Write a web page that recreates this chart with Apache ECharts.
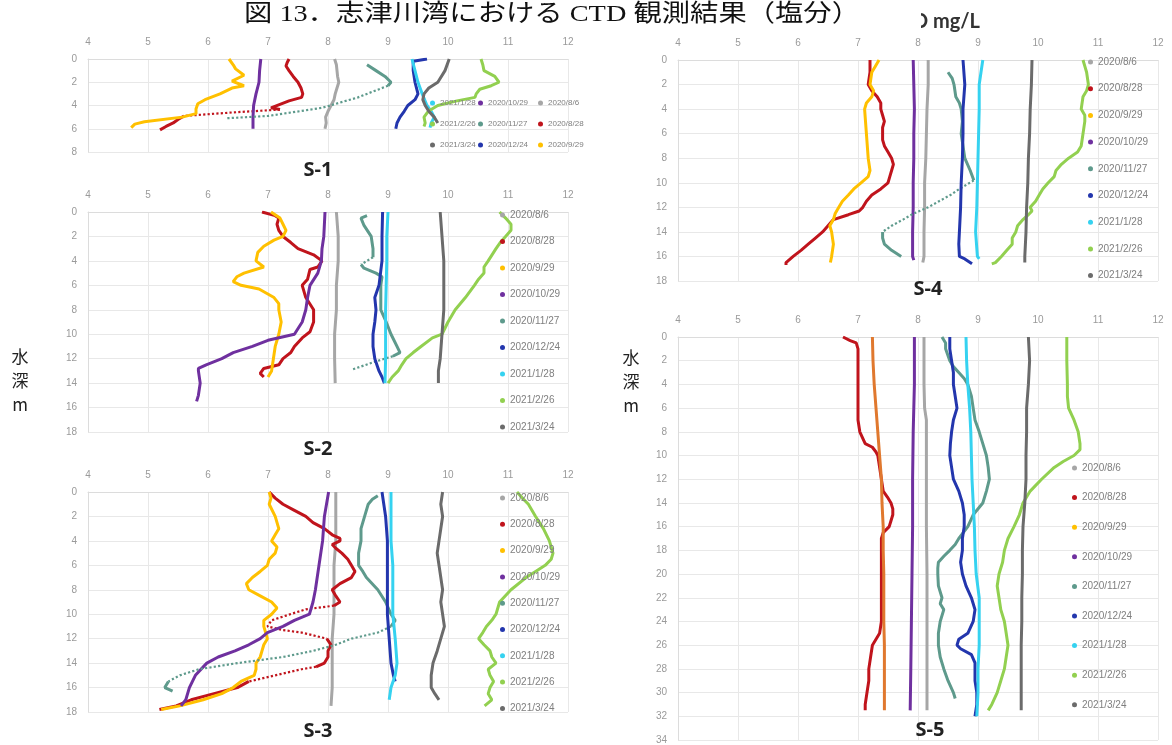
<!DOCTYPE html>
<html><head><meta charset="utf-8">
<script src="https://cdn.jsdelivr.net/npm/echarts@6/dist/echarts.min.js"></script>
<style>html,body{margin:0;padding:0;background:#fff}#chart{width:1172px;height:745px}</style>
</head><body><div id="chart"></div><script>
// ---------- labels / ticks ----------
const TITLE = '図 13．志津川湾における CTD 観測結果（塩分）';
const UNIT_TEXT = 'DO mg/L';
const DEPTH_NAME = '水\n深\nm';
const DATES = ['2020/8/6','2020/8/28','2020/9/29','2020/10/29','2020/11/27','2020/12/24','2021/1/28','2021/2/26','2021/3/24'];
const X_TICKS = [4,5,6,7,8,9,10,11,12];
const S1_DEPTH_TICKS = [0,2,4,6,8];
const S2_DEPTH_TICKS = [0,2,4,6,8,10,12,14,16,18];
const S3_DEPTH_TICKS = [0,2,4,6,8,10,12,14,16,18];
const S4_DEPTH_TICKS = [0,2,4,6,8,10,12,14,16,18];
const S5_DEPTH_TICKS = [0,2,4,6,8,10,12,14,16,18,20,22,24,26,28,30,32,34];

// ---------- data: [depth m, DO mg/L] ----------
// S-1
const S1_0806 = [[0,8.11],[0.5,8.14],[1,8.15],[1.5,8.16],[2,8.18],[2.5,8.15],[3,8.12],[3.5,8.1],[4,8.05],[4.5,8.0],[5,7.96],[5.5,7.97],[6,7.95]];
const S1_0828 = [[0,7.35],[0.3,7.32],[0.6,7.3],[1,7.35],[1.5,7.42],[2,7.5],[2.5,7.55],[3,7.58],[3.3,7.56],[3.6,7.35],[3.9,7.2],[4.2,7.05],[4.35,7.2]];
const S1_0828_gap = [[4.35,7.2],[4.6,6.4],[4.9,5.6]];
const S1_0828_b = [[4.9,5.6],[5.2,5.5],[5.5,5.42],[5.8,5.3],[6.1,5.2]];
const S1_0929 = [[0,6.35],[0.5,6.42],[0.85,6.46],[1.4,6.6],[1.9,6.4],[2.3,6.6],[2.5,6.4],[3,6.2],[3.5,5.95],[3.85,5.83],[4.3,5.8],[4.7,5.8],[5,5.57],[5.4,4.94],[5.6,4.78],[5.9,4.72]];
const S1_1029 = [[0,6.88],[1,6.86],[2,6.85],[3,6.8],[4,6.76],[5,6.75],[6,6.75]];
const S1_1127 = [[0.5,8.65],[1,8.8],[1.5,8.95],[2,9.05],[2.3,9.0]];
const S1_1127_gap = [[2.3,9.0],[3.3,8.5],[4.2,7.9],[4.9,7.0],[5.1,6.3]];
const S1_1224 = [[0,9.65],[0.15,9.65],[0.2,9.42],[0.5,9.42],[1,9.42],[2,9.45],[3,9.5],[3.5,9.45],[4,9.33],[4.5,9.27],[5,9.2],[5.5,9.15],[6,9.13]];
const S1_0128 = [[0,9.4],[1,9.45],[2,9.5],[3,9.57],[4,9.65],[4.5,9.72],[5,9.77],[5.5,9.72],[5.9,9.7]];
const S1_0226 = [[0,10.55],[0.5,10.58],[1,10.6],[1.5,10.78],[2,10.85],[2.3,10.72],[2.6,10.53],[3,10.47],[3.3,10.45],[3.6,10.15],[4,9.83],[4.5,9.67],[5,9.6],[5.5,9.62],[5.8,9.6]];
const S1_0324 = [[0,10.02],[1,9.95],[2,9.83],[2.5,9.68],[3,9.6],[3.5,9.58],[4,9.62],[4.5,9.68],[5,9.77],[5.5,9.83]];
// S-2
const S2_0806 = [[0,8.14],[2,8.17],[4,8.17],[6,8.14],[8,8.14],[10,8.11],[12,8.11],[14,8.12]];
const S2_0828 = [[0,6.9],[0.3,7.12],[0.5,7.18],[1,7.15],[1.5,7.18],[2,7.25],[2.5,7.38],[3,7.5],[3.5,7.76],[4,7.9],[4.5,7.83],[4.7,7.7],[5.5,7.66],[6,7.57],[7,7.63],[8,7.76],[9,7.76],[9.8,7.7],[10.3,7.57],[11,7.44],[11.5,7.38],[12,7.25],[12.5,7.18],[12.8,6.93],[13.2,6.87],[13.5,6.93]];
const S2_0929 = [[0,7.05],[0.5,7.2],[1,7.25],[1.5,7.3],[2,7.25],[2.3,7.1],[2.8,6.93],[3.3,6.83],[4,6.8],[4.5,6.93],[5,6.6],[5.3,6.48],[5.7,6.42],[6,6.55],[6.3,6.85],[7,7.1],[7.5,7.18],[8,7.18],[9,7.22],[10,7.18],[11,7.12],[12,7.09],[13,7.06],[13.5,7.0]];
const S2_1029 = [[0,7.95],[2,7.93],[3,7.9],[4,7.89],[5,7.83],[6,7.7],[7,7.66],[8,7.63],[9,7.57],[10,7.44],[10.5,7.0],[11,6.74],[11.5,6.42],[12,6.23],[12.5,5.97],[12.8,5.84],[13,5.84],[14,5.87],[15,5.84],[15.5,5.81]];
const S2_1127 = [[0.3,8.65],[0.5,8.55],[1.1,8.6],[2,8.72],[3,8.75],[3.7,8.75]];
const S2_1127_gap = [[3.7,8.75],[4.3,8.55]];
const S2_1127_b = [[4.3,8.55],[4.6,8.6],[5,8.8],[5.3,8.9],[6,8.88],[8,8.88],[9,8.97],[10,9.05],[11,9.15],[11.5,9.2],[11.8,9.08]];
const S2_1127_gap2 = [[11.8,9.08],[12.3,8.75],[12.9,8.4]];
const S2_1224 = [[0,8.91],[2,8.9],[4,8.9],[6,8.85],[7,8.78],[8,8.8],[9,8.78],[10,8.75],[11,8.75],[12,8.78],[13,8.85],[13.5,8.9],[14,8.94]];
const S2_0128 = [[0,9.0],[2,8.98],[4,8.98],[6,8.97],[8,8.96],[10,8.96],[12,8.96],[14,8.95]];
const S2_0226 = [[0,10.86],[0.5,10.96],[1,11.05],[1.5,11.05],[2,10.96],[2.5,10.87],[3,10.8],[4,10.67],[4.5,10.6],[5,10.6],[5.5,10.51],[6,10.44],[7,10.29],[8,10.12],[9,10.0],[10,9.9],[10.3,9.74],[11,9.55],[11.5,9.42],[12,9.3],[12.5,9.23],[13,9.17],[13.5,9.07],[14,9.0]];
const S2_0324 = [[0,9.87],[2,9.9],[4,9.93],[6,9.93],[8,9.93],[10,9.9],[12,9.87],[13,9.84],[14,9.84]];
// S-3
const S3_0806 = [[0,8.13],[2,8.13],[4,8.13],[6,8.1],[8,8.1],[10,8.1],[12,8.07],[14,8.07],[16,8.07],[17.5,8.05]];
const S3_0828 = [[0,7.02],[0.5,7.12],[1,7.25],[1.5,7.44],[2,7.63],[2.5,7.75],[3,7.94],[3.5,8.07],[3.8,8.2],[4,8.2],[4.3,8.07],[4.6,8.13],[5,8.23],[5.5,8.33],[6,8.39],[6.5,8.45],[7,8.39],[7.5,8.2],[8,8.07],[8.5,8.13],[9,8.2],[9.3,8.1]];
const S3_0828_gap = [[9.3,8.1],[9.6,7.63],[10,7.37],[10.5,7.06],[11,6.99],[11.3,7.25],[11.5,7.56],[12,7.98]];
const S3_0828_b = [[12,7.98],[12.5,8.05],[13,8.0],[13.5,8.0],[14,7.94],[14.3,7.8]];
const S3_0828_gap2 = [[14.3,7.8],[14.5,7.56],[15,7.12],[15.5,6.68]];
const S3_0828_c = [[15.5,6.68],[16,6.49],[16.5,6.1],[17,5.72],[17.5,5.47],[17.8,5.19]];
const S3_0929 = [[0,7.02],[0.5,7.05],[1,7.02],[2,7.12],[3,7.18],[3.5,7.12],[4,7.06],[4.5,7.15],[5,7.12],[5.5,7.02],[6,6.99],[6.5,6.87],[7,6.74],[7.5,6.64],[8,6.68],[8.5,6.87],[9,7.06],[9.5,7.15],[10,7.06],[10.5,6.93],[11,6.93],[11.5,6.96],[12,6.99],[12.5,6.93],[13,6.9],[13.5,6.87],[14,6.8],[14.5,6.8],[15,6.77],[15.5,6.55],[16,6.42],[16.5,6.23],[17,5.92],[17.5,5.53],[17.8,5.22]];
const S3_1029 = [[0,8.01],[2,7.94],[4,7.91],[6,7.85],[8,7.79],[9,7.75],[10,7.69],[10.5,7.44],[11,7.25],[11.5,6.99],[12,6.87],[12.5,6.68],[13,6.45],[13.5,6.17],[14,5.98],[15,5.79],[16,5.69],[17,5.63],[17.5,5.55]];
const S3_1127 = [[0.3,8.83],[0.6,8.74],[1,8.67],[2,8.61],[3,8.55],[4,8.55],[5,8.51],[6,8.51],[6.5,8.58],[7,8.64],[8,8.83],[9,8.96],[10,9.05],[10.5,9.12],[11,9.05]];
const S3_1127_gap = [[11,9.05],[11.5,8.83],[12,8.39],[12.5,8.13],[13,7.75],[13.5,7.25],[14,6.49],[14.5,5.85],[15,5.53],[15.5,5.34]];
const S3_1127_b = [[15.5,5.34],[16,5.28],[16.3,5.41]];
const S3_1224 = [[0,8.9],[2,8.96],[4,8.99],[6,8.99],[8,8.99],[10,8.99],[12,9.02],[14,9.05],[15,9.09],[15.5,9.12]];
const S3_0128 = [[0,9.05],[2,9.05],[4,9.05],[6,9.08],[8,9.08],[10,9.08],[12,9.12],[14,9.15],[15,9.12],[16,9.05],[17,9.02]];
const S3_0226 = [[0,11.15],[0.5,11.24],[1,11.34],[2,11.46],[3,11.59],[4,11.69],[4.5,11.72],[5,11.75],[5.5,11.72],[6,11.62],[6.5,11.46],[7,11.3],[8,11.05],[9,10.86],[10,10.8],[10.5,10.73],[11,10.64],[11.5,10.58],[12,10.51],[12.5,10.6],[13,10.7],[13.5,10.73],[14,10.8],[14.5,10.67],[15,10.7],[15.5,10.76],[16,10.7],[16.5,10.67],[17,10.73],[17.5,10.61]];
const S3_0324 = [[0,9.91],[1,9.88],[2,9.91],[3,9.88],[4,9.85],[5,9.82],[6,9.85],[7,9.88],[8,9.91],[9,9.88],[10,9.91],[11,9.94],[12,9.88],[13,9.82],[14,9.75],[15,9.72],[16,9.72],[16.5,9.78],[17,9.85]];
// S-4
const S4_0806 = [[0,8.17],[2,8.17],[4,8.15],[6,8.14],[8,8.13],[10,8.11],[12,8.11],[14,8.1],[16,8.1],[16.5,8.08]];
const S4_0828 = [[0,7.2],[1,7.2],[2,7.17],[2.5,7.23],[3,7.32],[3.5,7.38],[4,7.38],[4.5,7.41],[5,7.44],[5.5,7.41],[6,7.41],[6.5,7.41],[7,7.44],[7.5,7.5],[8,7.56],[8.5,7.59],[9,7.56],[9.5,7.53],[10,7.5],[10.5,7.38],[11,7.23],[11.5,7.14],[12,7.08],[12.3,7.02],[12.6,6.84],[13,6.59],[13.5,6.5],[14,6.41],[14.5,6.29],[15,6.17],[15.5,6.05],[16,5.92],[16.5,5.8],[16.7,5.8]];
const S4_0929 = [[0,7.35],[0.5,7.29],[1,7.23],[2,7.2],[2.5,7.26],[3,7.23],[3.5,7.14],[4,7.11],[6,7.14],[8,7.17],[9,7.2],[9.5,7.17],[10,7.05],[10.5,6.93],[11,6.84],[11.5,6.74],[12,6.68],[12.5,6.62],[13,6.59],[13.5,6.53],[14,6.56],[15,6.59],[16,6.56],[16.5,6.54]];
const S4_1029 = [[0,7.92],[2,7.93],[4,7.94],[6,7.93],[8,7.93],[10,7.92],[12,7.92],[14,7.91],[16,7.91],[16.3,7.93]];
const S4_1127 = [[1,8.5],[1.5,8.57],[2,8.6],[3,8.63],[3.5,8.69],[4,8.72],[5,8.74],[6,8.72],[7,8.75],[8,8.78],[9,8.87],[9.8,8.93]];
const S4_1127_gap = [[9.8,8.93],[10.5,8.69],[11,8.54],[11.5,8.35],[12,8.17],[12.5,7.93],[13,7.75],[13.5,7.56],[14,7.41]];
const S4_1127_b = [[14,7.41],[14.5,7.41],[15,7.44],[15.5,7.56],[16,7.72]];
const S4_1224 = [[0,8.75],[2,8.78],[4,8.75],[6,8.75],[8,8.74],[10,8.72],[12,8.71],[14,8.69],[15,8.68],[16,8.69],[16.2,8.78],[16.6,8.9]];
const S4_0128 = [[0,9.08],[1,9.05],[2,9.02],[4,9.02],[6,9.01],[8,9.0],[10,8.99],[12,8.98],[14,8.96],[16,8.99],[16.2,9.02]];
const S4_0226 = [[0,10.75],[0.5,10.78],[1,10.81],[2,10.84],[2.5,10.81],[3,10.75],[4,10.72],[4.5,10.78],[5,10.78],[6,10.75],[7,10.72],[7.5,10.66],[8,10.51],[8.5,10.39],[9,10.3],[9.5,10.27],[10,10.17],[10.5,10.08],[11,10.02],[11.5,9.96],[12,9.87],[12.3,9.9],[12.6,9.84],[13,9.75],[13.5,9.66],[14,9.63],[14.5,9.57],[15,9.57],[15.5,9.48],[16,9.39],[16.5,9.29],[16.6,9.23]];
const S4_0324 = [[0,9.9],[2,9.89],[4,9.87],[6,9.86],[8,9.84],[10,9.83],[12,9.81],[14,9.8],[16,9.78],[16.5,9.78]];
// S-5
const S5_0806 = [[0,8.1],[4,8.1],[6,8.11],[7,8.14],[10,8.14],[16,8.14],[20,8.15],[24,8.15],[28,8.15],[31.5,8.15]];
const S5_0828 = [[0,6.75],[0.3,6.87],[0.5,6.97],[1,7.0],[2,7.0],[4,7.0],[6,7.0],[7,7.0],[8,7.03],[9,7.12],[9.3,7.24],[9.7,7.3],[10,7.33],[11,7.36],[12,7.39],[13,7.42],[13.5,7.49],[14,7.55],[14.5,7.58],[15,7.58],[15.5,7.55],[16,7.52],[16.5,7.42],[17,7.39],[18,7.39],[20,7.39],[22,7.39],[24,7.39],[25,7.36],[25.5,7.3],[26,7.24],[27,7.21],[28,7.18],[29,7.18],[30,7.15],[31,7.12],[31.5,7.12]];
const S5_0929 = [[0,7.24],[2,7.25],[4,7.27],[6,7.3],[8,7.33],[10,7.36],[12,7.39],[14,7.4],[16,7.42],[18,7.42],[20,7.43],[22,7.43],[24,7.43],[26,7.44],[28,7.44],[30,7.44],[31.5,7.44]];
const S5_1029 = [[0,7.94],[4,7.94],[8,7.92],[12,7.91],[16,7.91],[20,7.9],[24,7.89],[28,7.88],[31.5,7.87]];
const S5_1127 = [[0,8.4],[0.5,8.46],[1,8.46],[2,8.53],[2.5,8.59],[3,8.68],[3.5,8.77],[4,8.83],[5,8.89],[6,8.92],[7,8.95],[8,9.02],[9,9.08],[10,9.14],[11,9.17],[12,9.19],[13,9.14],[14,9.08],[15,8.92],[16,8.83],[17,8.68],[17.5,8.62],[18,8.53],[18.5,8.43],[19,8.34],[19.5,8.33],[20,8.33],[21,8.34],[22,8.4],[22.5,8.37],[23,8.43],[24,8.37],[25,8.34],[26,8.34],[27,8.37],[28,8.43],[29,8.5],[30,8.59],[30.5,8.62]];
const S5_1224 = [[0,8.53],[1,8.53],[2,8.56],[3,8.59],[4,8.59],[5,8.62],[6,8.65],[7,8.59],[8,8.56],[9,8.54],[10,8.53],[11,8.56],[12,8.59],[13,8.68],[14,8.74],[15,8.77],[16,8.77],[17,8.74],[18,8.74],[19,8.71],[20,8.74],[21,8.8],[22,8.89],[23,8.95],[24,8.92],[25,8.83],[25.5,8.68],[26,8.65],[26.3,8.71],[26.8,8.89],[27.5,8.95],[28,8.95],[29,8.95],[30,8.98],[31,8.98],[32,8.95]];
const S5_0128 = [[0,8.8],[2,8.81],[4,8.83],[6,8.86],[8,8.88],[10,8.89],[12,8.9],[14,8.92],[16,8.94],[18,8.95],[20,8.97],[22,9.02],[24,9.02],[26,9.02],[28,9.0],[30,9.0],[32,8.98]];
const S5_0226 = [[0,10.48],[2,10.48],[4,10.49],[5,10.49],[6,10.51],[7,10.6],[8,10.67],[9,10.7],[9.5,10.7],[10,10.6],[10.5,10.42],[11,10.27],[12,10.06],[13,9.87],[14,9.75],[15,9.69],[16,9.6],[17,9.5],[18,9.44],[19,9.41],[20,9.35],[21,9.32],[22,9.35],[23,9.38],[24,9.44],[25,9.47],[26,9.5],[27,9.47],[28,9.44],[29,9.38],[30,9.32],[31,9.23],[31.5,9.17]];
const S5_0324 = [[0,9.84],[2,9.86],[4,9.84],[6,9.81],[8,9.81],[10,9.8],[12,9.8],[14,9.78],[16,9.75],[18,9.74],[20,9.74],[22,9.73],[24,9.73],[26,9.72],[28,9.72],[30,9.72],[31.5,9.72]];

// ---------- styles ----------
const COLORS = ['#a6a6a6','#c0141c','#ffc000','#6f309f','#5e9a8c','#2336ad','#35d2f0','#92d050','#6b6b6b'];
const FONT = '"Liberation Sans","Open Sans",sans-serif';

// runs alternate: solid, dotted, solid, ...
const STATIONS = [
  {label:'S-1', ticks:S1_DEPTH_TICKS, grid:{left:88,top:59,width:480,height:93}, labelPos:[318,170],
   runs:[[S1_0806],[S1_0828,S1_0828_gap,S1_0828_b],[S1_0929],[S1_1029],[S1_1127,S1_1127_gap],[S1_1224],[S1_0128],[S1_0226],[S1_0324]]},
  {label:'S-2', ticks:S2_DEPTH_TICKS, grid:{left:88,top:212,width:480,height:220}, labelPos:[318,449],
   runs:[[S2_0806],[S2_0828],[S2_0929],[S2_1029],[S2_1127,S2_1127_gap,S2_1127_b,S2_1127_gap2],[S2_1224],[S2_0128],[S2_0226],[S2_0324]]},
  {label:'S-3', ticks:S3_DEPTH_TICKS, grid:{left:88,top:492,width:480,height:220}, labelPos:[318,731],
   runs:[[S3_0806],[S3_0828,S3_0828_gap,S3_0828_b,S3_0828_gap2,S3_0828_c],[S3_0929],[S3_1029],[S3_1127,S3_1127_gap,S3_1127_b],[S3_1224],[S3_0128],[S3_0226],[S3_0324]]},
  {label:'S-4', ticks:S4_DEPTH_TICKS, grid:{left:678,top:60,width:480,height:221}, labelPos:[928,289],
   runs:[[S4_0806],[S4_0828],[S4_0929],[S4_1029],[S4_1127,S4_1127_gap,S4_1127_b],[S4_1224],[S4_0128],[S4_0226],[S4_0324]]},
  {label:'S-5', ticks:S5_DEPTH_TICKS, grid:{left:678,top:337,width:480,height:403}, labelPos:[930,730],
   runs:[[S5_0806],[S5_0828],[S5_0929],[S5_1029],[S5_1127],[S5_1224],[S5_0128],[S5_0226],[S5_0324]], colorOverride:{2:'#e0782e'}}
];

const grids = [], xAxes = [], yAxes = [], series = [];
const axisLabelStyle = {color:'#9a9a9a', fontSize:10, fontFamily:FONT};
STATIONS.forEach((st, i) => {
  grids.push(Object.assign({containLabel:false}, st.grid));
  xAxes.push({type:'value', gridIndex:i, position:'top', min:X_TICKS[0], max:X_TICKS[X_TICKS.length-1], interval:1,
    axisLabel:Object.assign({margin:12}, axisLabelStyle), axisTick:{show:false},
    axisLine:{show:true, lineStyle:{color:'#dcdcdc'}}, splitLine:{show:true, lineStyle:{color:'#e8e8e8'}}});
  yAxes.push({type:'value', gridIndex:i, inverse:true, min:st.ticks[0], max:st.ticks[st.ticks.length-1], interval:2,
    axisLabel:Object.assign({margin:11}, axisLabelStyle), axisTick:{show:false},
    axisLine:{show:true, lineStyle:{color:'#dcdcdc'}}, splitLine:{show:true, lineStyle:{color:'#e8e8e8'}}});
  st.runs.forEach((runs, j) => {
    const color = (st.colorOverride && st.colorOverride[j]) || COLORS[j];
    runs.forEach((run, k) => {
      series.push({type:'line', name:DATES[j], xAxisIndex:i, yAxisIndex:i,
        data:run.map(p => [p[1], p[0]]), showSymbol:false, symbol:'circle', symbolSize:5,
        color:color, itemStyle:{color:color},
        lineStyle:{color:color, width:k % 2 ? 2.2 : 3, type:k % 2 ? 'dotted' : 'solid'},
        silent:true, animation:false});
    });
  });
});

const legendBase = {orient:'vertical', icon:'circle', itemWidth:5, itemHeight:5, padding:0,
  textStyle:{color:'#7f7f7f', fontSize:10, fontFamily:FONT, lineHeight:12}, selectedMode:false};
const smallText = Object.assign({}, legendBase.textStyle, {fontSize:8});
const legends = [
  // S-1 : three columns
  Object.assign({}, legendBase, {left:430, top:97, itemGap:9, data:DATES.slice(6,9), textStyle:smallText}),
  Object.assign({}, legendBase, {left:478, top:97, itemGap:9, data:DATES.slice(3,6), textStyle:smallText}),
  Object.assign({}, legendBase, {left:538, top:97, itemGap:9, data:DATES.slice(0,3), textStyle:smallText}),
  // S-2..S-5
  Object.assign({}, legendBase, {left:500, top:209, itemGap:14.5, data:DATES}),
  Object.assign({}, legendBase, {left:500, top:492, itemGap:14.3, data:DATES}),
  Object.assign({}, legendBase, {left:1088, top:56, itemGap:14.7, data:DATES}),
  Object.assign({}, legendBase, {left:1072, top:462, itemGap:17.6, data:DATES})
];

const graphics = [
  {type:'text', z:1, x:980, y:22, style:{text:UNIT_TEXT, fill:'#333', font:'bold 20px "Lato","Open Sans",sans-serif', textAlign:'right', textVerticalAlign:'middle'}},
  {type:'rect', z:2, shape:{x:215, y:0, width:706, height:33}, style:{fill:'#ffffff'}},
  {type:'text', z:3, x:552, y:15, scaleX:1.18, style:{text:TITLE, fill:'#111', font:'24px "Liberation Serif","Noto Sans CJK JP",serif', textAlign:'center', textVerticalAlign:'middle'}},
  {type:'text', z:3, x:20, y:345, style:{text:DEPTH_NAME, fill:'#222', font:'17px "Noto Sans CJK JP",sans-serif', textAlign:'center', textVerticalAlign:'top', lineHeight:24}},
  {type:'text', z:3, x:631, y:346, style:{text:DEPTH_NAME, fill:'#222', font:'17px "Noto Sans CJK JP",sans-serif', textAlign:'center', textVerticalAlign:'top', lineHeight:24}}
];
STATIONS.forEach(st => {
  graphics.push({type:'text', z:3, x:st.labelPos[0], y:st.labelPos[1],
    style:{text:st.label, fill:'#222', font:'bold 20px "Open Sans",sans-serif', textAlign:'center', textVerticalAlign:'middle'}});
});

const chart = echarts.init(document.getElementById('chart'), null, {renderer:'canvas'});
chart.setOption({
  animation:false,
  backgroundColor:'#ffffff',
  grid:grids, xAxis:xAxes, yAxis:yAxes, legend:legends, graphic:graphics, series:series
});
</script></body></html>
